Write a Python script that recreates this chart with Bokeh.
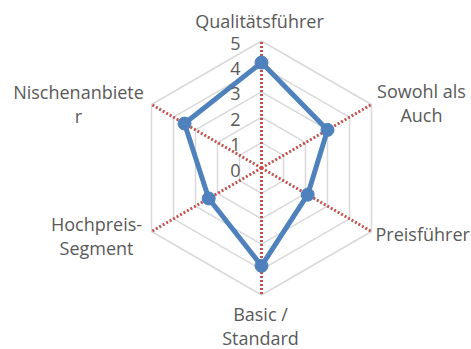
import numpy as np
from bokeh.plotting import figure
from bokeh.models import Range1d, ColumnDataSource
from bokeh.core.properties import value
from bokeh.embed import file_html
from bokeh.resources import INLINE

categories = ["Qualitätsführer", "Sowohl als\nAuch", "Preisführer", "Basic /\nStandard",
              "Hochpreis-\nSegment", "Nischenanbiete\nr"]
values = [4.15, 3.0, 2.1, 3.85, 2.4, 3.5]
tick_labels = ["0", "1", "2", "3", "4", "5"]
rmax = 5

W, H = 471, 349
cx, cy = 261, 167.5
R = 127.0
ppu = R / rmax

p = figure(width=W, height=H, output_backend="svg", toolbar_location=None,
           x_range=Range1d(-cx / ppu, (W - cx) / ppu),
           y_range=Range1d(-(H - cy) / ppu, cy / ppu),
           min_border=0)
p.axis.visible = False
p.grid.visible = False
p.outline_line_color = None
p.background_fill_color = "white"

n = len(categories)
ang = np.pi / 2 - np.arange(n) * 2 * np.pi / n

# rings
rx, ry = [], []
for r in range(1, rmax + 1):
    xs = list(r * np.cos(ang)) + [r * np.cos(ang[0])]
    ys = list(r * np.sin(ang)) + [r * np.sin(ang[0])]
    rx.append(xs)
    ry.append(ys)
p.multi_line(rx, ry, line_color="#D9D9D9", line_width=1.5)

# spokes
sx = [[0, rmax * np.cos(a)] for a in ang]
sy = [[0, rmax * np.sin(a)] for a in ang]
p.multi_line(sx, sy, line_color="#C0504D", line_width=3, line_dash="2 2")

# series
v = np.array(values)
px = v * np.cos(ang)
py = v * np.sin(ang)
p.line(list(px) + [px[0]], list(py) + [py[0]], line_color="#4F81BD", line_width=5)
p.scatter(px, py, size=13, fill_color="#4F81BD", line_color="#4F81BD")

# tick labels
tv = [float(t) for t in tick_labels]
p.text(x=[0] * len(tv), y=tv, text=tick_labels, text_align="right", text_baseline="middle",
       x_offset=-21, y_offset=2, text_font=value("Open Sans"), text_font_size="18px",
       text_color="#595959")

# category labels
xoff = [-2, 50, 4, -1, -55, -73]
yoff = [-20, -1.5, 2, 30.5, 4.5, -0.5]
align = ["center", "center", "left", "center", "center", "center"]
src = ColumnDataSource(dict(x=rmax * np.cos(ang), y=rmax * np.sin(ang), t=categories,
                            xo=xoff, yo=yoff, al=align))
p.text(x="x", y="y", text="t", x_offset="xo", y_offset="yo", text_align="al",
       text_baseline="middle", text_font=value("Open Sans"), text_font_size="18px",
       text_color="#595959", text_line_height=1.0, source=src)

open("out.html", "w").write(file_html(p, INLINE))
